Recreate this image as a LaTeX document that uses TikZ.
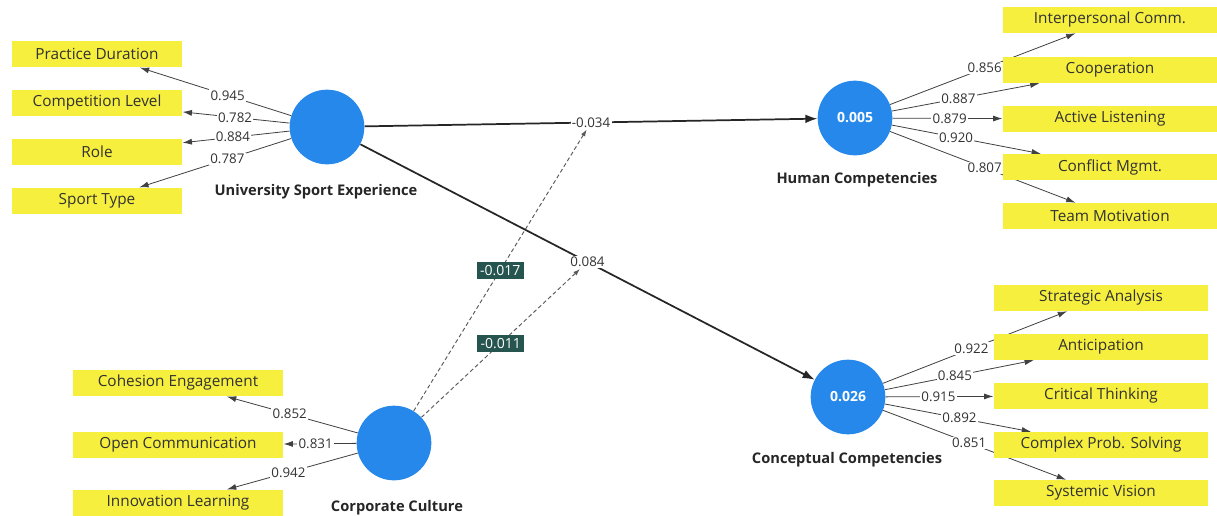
\documentclass[tikz,border=0pt]{standalone}
\usepackage{fontspec}
\setmainfont{Open Sans}
\usepackage{tikz}
\usetikzlibrary{backgrounds}
\usetikzlibrary{positioning,arrows.meta}

\definecolor{indyellow}{RGB}{246,239,62}
\definecolor{lvblue}{RGB}{38,136,235}
\definecolor{modteal}{RGB}{38,84,78}
\definecolor{txtgray}{RGB}{50,50,50}

\begin{document}
\begin{tikzpicture}[x=0.75pt,y=-0.75pt,font=\fontsize{10}{12}\selectfont,
every node/.style={text=txtgray},
lv/.style={circle,fill=lvblue,minimum size=56pt,inner sep=0pt,text=white,font=\fontsize{10.5}{12}\selectfont\bfseries},
lvname/.style={font=\fontsize{11}{13}\selectfont\bfseries,text=black!85},
ind/.style={fill=indyellow,minimum height=20pt,inner sep=1pt,font=\fontsize{11.5}{13}\selectfont},
indl/.style={ind,minimum width=128pt},
indr/.style={ind,minimum width=161pt,minimum height=19.5pt},
indb/.style={ind,minimum width=158pt},
load/.style={draw=black!75,line width=0.6pt,-{Latex[length=7pt,width=4.5pt]}},
lbl/.style={fill=white,inner sep=1pt},
struct/.style={draw=black!85,line width=1.3pt,-{Latex[length=9pt,width=6.5pt]}},
modpath/.style={draw=black!65,dash pattern=on 3pt off 2pt,line width=0.7pt,-{Latex[length=5pt,width=3.5pt]}},
modlbl/.style={fill=modteal,text=white,inner sep=2.5pt,font=\fontsize{10.5}{12}\selectfont}]
\useasboundingbox (0,0) rectangle (1217,515);

% latent variables
\node[lv] (use) at (327,127) {};
\node[lv] (hc) at (855,118) {0.005};
\node[lv] (conc) at (848,397) {0.026};
\node[lv] (cc) at (394,443) {};
\node[lvname] (usename) at (316,192) {University Sport Experience};
\node[lvname] (hcname) at (857,180) {Human Competencies};
\node[lvname] (concname) at (847,460) {Conceptual Competencies};
\node[lvname] (ccname) at (397,508) {Corporate Culture};

% indicators
\foreach \n/\t/\y in {pd/Practice Duration/54, cl/Competition Level/103, role/Role/152, st/Sport Type/201}
  \node[indl] (\n) at (97,\y) {\t};
\foreach \n/\t/\y in {ic/Interpersonal Comm./20, coop/Cooperation/70, al/Active Listening/119, cm/Conflict Mgmt./167, tm/Team Motivation/216}
  \node[indr] (\n) at (1110,\y) {\t};
\foreach \n/\t/\y in {sa/Strategic Analysis/298, ant/Anticipation/347, ct/Critical Thinking/396, cps/Complex Prob. Solving/445, sv/Systemic Vision/493}
  \node[indr] (\n) at (1101,\y) {\t};
\foreach \n/\t/\y in {ce/Cohesion Engagement/383, oc/Open Communication/445, il/Innovation Learning/503}
  \node[indb] (\n) at (178,\y) {\t};

\begin{scope}[on background layer]
\fill[white] (0,0) rectangle (1217,515);
% outer loadings
\foreach \n/\v/\p in {pd/0.945/0.42, cl/0.782/0.51, role/0.884/0.53, st/0.787/0.42}
  \draw[load] (use) -- node[lbl,pos=\p] {\v} (\n);
\foreach \n/\v/\p in {ic/0.856/0.51, coop/0.887/0.45, al/0.879/0.52, cm/0.920/0.43, tm/0.807/0.51}
  \draw[load] (hc) -- node[lbl,pos=\p] {\v} (\n);
\foreach \n/\v/\p in {sa/0.922/0.48, ant/0.845/0.47, ct/0.915/0.49, cps/0.892/0.51, sv/0.851/0.47}
  \draw[load] (conc) -- node[lbl,pos=\p] {\v} (\n);
\foreach \n/\v/\p in {ce/0.852/0.52, oc/0.831/0.56, il/0.942/0.53}
  \draw[load] (cc) -- node[lbl,pos=\p] {\v} (\n);
% structural paths
\draw[struct] (use) -- node[lbl] (b1) {-0.034} (hc);
\draw[struct] (use) -- node[lbl] (b2) {0.084} (conc);
% moderating effects
\draw[modpath] (cc) -- node[modlbl] {-0.017} (b1);
\draw[modpath] (cc) -- node[modlbl] {-0.011} (b2);
\end{scope}
\end{tikzpicture}
\end{document}
